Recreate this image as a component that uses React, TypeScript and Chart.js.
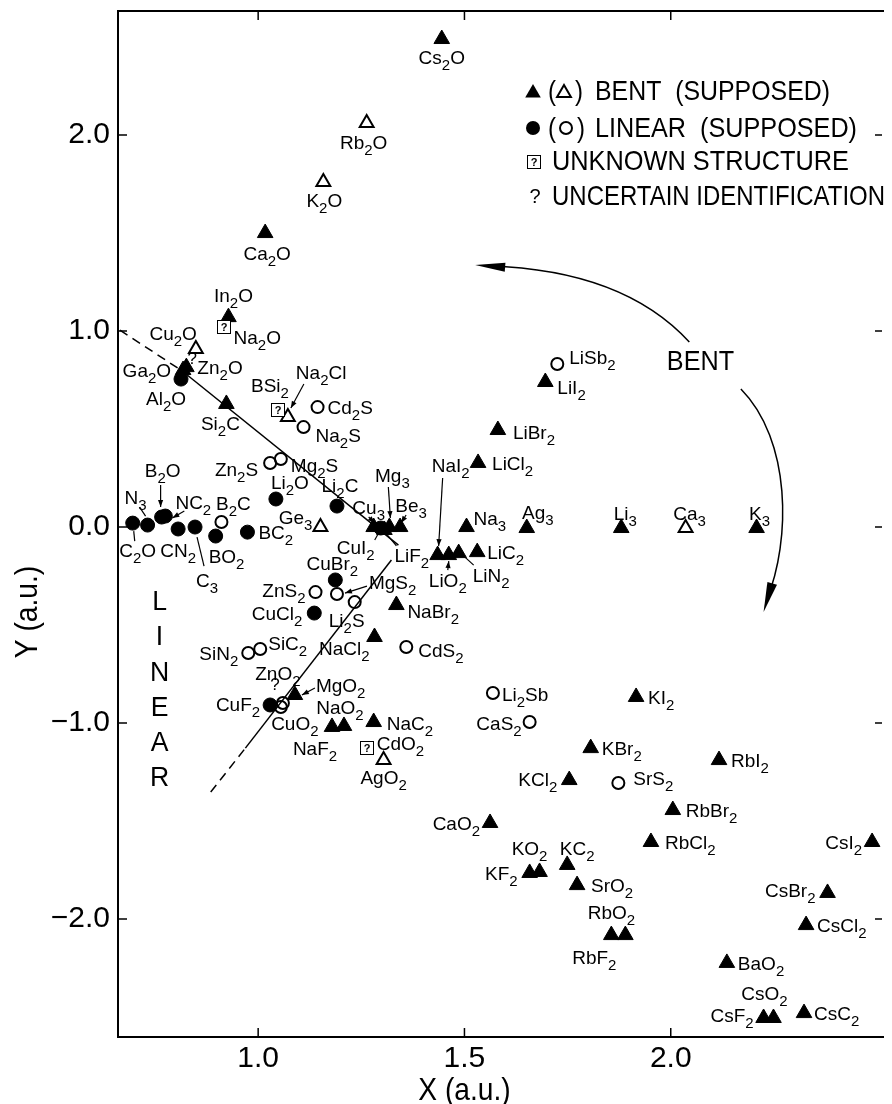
import React, { useEffect, useRef } from 'react';
import { Chart, registerables } from 'chart.js';
Chart.register(...registerables);

const FONT = '"Liberation Sans", Arial, sans-serif';

// ---- axes ----
const X_MIN = 0.6603;
const X_MAX = 2.512;
const Y_MIN = -2.602;
const Y_MAX = 2.633;
const X_TICKS = [1.0, 1.5, 2.0];
const Y_TICKS = [-2, -1, 0, 1, 2];

// ---- BENT (filled triangles) ----
const BENT_NAMES = ['Cs_2O','Ca_2O','In_2O','Ga_2O','Zn_2O','Si_2C','Cu_3','LiF_2','Mg_3','Be_3','Na_3','Ag_3','Li_3','K_3','LiCl_2','LiBr_2','LiI_2','NaI_2','LiO_2','LiN_2','LiC_2','NaBr_2','NaCl_2','MgO_2','NaF_2','NaO_2','NaC_2','KI_2','KBr_2','KCl_2','RbI_2','RbBr_2','RbCl_2','CsI_2','CsBr_2','CsCl_2','BaO_2','CsF_2','CsO_2','CsC_2','RbF_2','RbO_2','SrO_2','KC_2','KF_2','KO_2','CaO_2'];
const BENT_X = [1.445,1.017,0.928,0.818,0.826,0.923,1.280,1.306,1.318,1.344,1.505,1.651,1.880,2.208,1.533,1.581,1.696,1.435,1.462,1.486,1.531,1.335,1.282,1.089,1.179,1.208,1.280,1.916,1.806,1.754,2.117,2.005,1.952,2.488,2.380,2.328,2.136,2.225,2.249,2.323,1.856,1.890,1.773,1.749,1.658,1.682,1.562];
const BENT_Y = [2.490,1.500,1.071,0.801,0.816,0.628,0.000,-0.015,0.000,0.000,0.000,-0.005,-0.005,-0.005,0.327,0.495,0.740,-0.143,-0.143,-0.133,-0.128,-0.398,-0.561,-0.857,-1.020,-1.015,-0.995,-0.867,-1.128,-1.291,-1.189,-1.444,-1.607,-1.607,-1.867,-2.031,-2.224,-2.505,-2.505,-2.480,-2.082,-2.082,-1.827,-1.724,-1.765,-1.760,-1.510];

// ---- BENT (supposed, open triangles) ----
const BENT_SUP_NAMES = ['Rb_2O','K_2O','Cu_2O','Na_2Cl','Ge_3','Ca_3','AgO_2'];
const BENT_SUP_X = [1.263,1.158,0.849,1.072,1.151,2.036,1.304];
const BENT_SUP_Y = [2.061,1.760,0.908,0.561,0.000,-0.005,-1.189];

// ---- LINEAR (filled circles) ----
const LIN_NAMES = ['Al_2O','Li_2O','Li_2C','CuI_2','C_2O','N_3','B_2O','NC_2','CN_2','C_3','BO_2','BC_2','CuBr_2','CuCl_2','CuF_2'];
const LIN_X = [0.813,1.043,1.191,1.297,0.696,0.732,0.766,0.775,0.806,0.847,0.897,0.974,1.187,1.136,1.029];
const LIN_Y = [0.755,0.143,0.107,-0.005,0.020,0.010,0.051,0.056,-0.010,0.000,-0.046,-0.026,-0.270,-0.439,-0.908];

// ---- LINEAR (supposed, open circles) ----
const LIN_SUP_NAMES = ['Cd_2S','Na_2S','Zn_2S','Mg_2S','B_2C','LiSb_2','ZnS_2','MgS_2','Li_2S','CdS_2','SiN_2','SiC_2','ZnO_2','CuO_2','Li_2Sb','CaS_2','SrS_2'];
const LIN_SUP_X = [1.144,1.110,1.029,1.055,0.911,1.725,1.139,1.191,1.234,1.359,0.976,1.005,1.060,1.055,1.569,1.658,1.873];
const LIN_SUP_Y = [0.612,0.510,0.327,0.347,0.026,0.832,-0.332,-0.342,-0.383,-0.612,-0.643,-0.622,-0.898,-0.918,-0.847,-0.995,-1.306];

// ---- UNKNOWN STRUCTURE ----
const UNK_NAMES = ['Na_2O','BSi_2','CdO_2'];
const UNK_X = [0.916,1.048,1.263];
const UNK_Y = [1.020,0.597,-1.128];

// ---- UNCERTAIN IDENTIFICATION marks ----
const UNCERTAIN_X = [0.840, 1.041];
const UNCERTAIN_Y = [0.857, -0.806];

// ---- guide lines (data units) ----
const G1_SOLID_X = [0.816, 1.340];
const G1_SOLID_Y = [0.796, -0.092];
const G1_DASH_X = [0.665, 0.816];
const G1_DASH_Y = [1.005, 0.796];
const G2_SOLID_X = [0.969, 1.323];
const G2_SOLID_Y = [-1.128, -0.168];
const G2_DASH_X = [0.885, 0.969];
const G2_DASH_Y = [-1.352, -1.128];

// ---- curved arrows (data units) ----
const ARC1_X = [2.045, 1.885, 1.526];
const ARC1_Y = [0.944, 1.311, 1.337];
const ARC2_X = [2.170, 2.292, 2.292, 2.225];
const ARC2_Y = [0.704, 0.444, -0.066, -0.434];

// ---- label layout: [align, dx px, dy px] ----
const LABEL_LAYOUT: Record<string, [string, number, number]> = {
  'Cs_2O': ['c', 0, 18], 'Rb_2O': ['c', -3, 19], 'K_2O': ['c', 1, 18], 'Ca_2O': ['c', 2, 20],
  'In_2O': ['c', 5, -22], 'Na_2O': ['l', 10, 10], 'Cu_2O': ['r', 1, -16], 'Zn_2O': ['l', 11, 0],
  'Ga_2O': ['r', -12, 0], 'Al_2O': ['c', -15, 19], 'Si_2C': ['c', -6, 19], 'BSi_2': ['c', -8, -25],
  'Na_2Cl': ['l', 8, -45], 'Cd_2S': ['l', 10, 0], 'Na_2S': ['l', 12, 8], 'Zn_2S': ['r', -12, 6],
  'Mg_2S': ['l', 10, 6], 'Li_2O': ['c', 14, -17], 'Li_2C': ['c', 3, -21], 'Ge_3': ['r', -8, -10],
  'B_2C': ['c', 12, -19], 'BC_2': ['l', 11, 0], 'BO_2': ['l', -7, 20], 'C_3': ['c', 12, 53],
  'CN_2': ['c', 0, 21], 'C_2O': ['c', 5, 27], 'N_3': ['c', -12, -28], 'B_2O': ['c', 1, -47],
  'NC_2': ['c', 28, -14], 'Cu_3': ['c', -5, -20], 'Mg_3': ['c', 3, -52], 'Be_3': ['c', 11, -22],
  'CuI_2': ['r', -6, 19], 'LiF_2': ['l', 10, 25], 'NaI_2': ['c', 13, -90], 'LiO_2': ['c', -1, 25],
  'LiN_2': ['l', 14, 22], 'LiC_2': ['l', 10, 0], 'Na_3': ['l', 7, -9], 'Ag_3': ['c', 11, -16],
  'Li_3': ['c', 4, -15], 'Ca_3': ['c', 4, -15], 'K_3': ['c', 3, -15], 'LiCl_2': ['l', 14, 0],
  'LiBr_2': ['l', 15, 2], 'LiI_2': ['l', 12, 5], 'LiSb_2': ['l', 12, -7], 'NaBr_2': ['l', 11, 6],
  'NaCl_2': ['r', -5, 11], 'CdS_2': ['l', 12, 3], 'Li_2S': ['c', -8, 18], 'MgS_2': ['l', 32, -12],
  'CuBr_2': ['c', -3, -17], 'ZnS_2': ['r', -10, -2], 'CuCl_2': ['r', -12, 0], 'SiN_2': ['r', -10, 0],
  'SiC_2': ['l', 8, -6], 'ZnO_2': ['c', -5, -30], 'CuO_2': ['c', 14, 16], 'CuF_2': ['r', -10, -1],
  'MgO_2': ['l', 21, -10], 'NaO_2': ['c', -4, -19], 'NaF_2': ['c', -17, 21], 'NaC_2': ['l', 13, 1],
  'CdO_2': ['l', 10, -5], 'AgO_2': ['c', 0, 17], 'Li_2Sb': ['l', 9, 1], 'CaS_2': ['r', -8, 1],
  'KCl_2': ['r', -12, -1], 'KBr_2': ['l', 11, 0], 'KI_2': ['l', 12, 0], 'RbI_2': ['l', 12, 0],
  'SrS_2': ['l', 15, -5], 'RbBr_2': ['l', 13, 0], 'RbCl_2': ['l', 14, 0], 'CsI_2': ['r', -10, 0],
  'CsBr_2': ['r', -12, -3], 'CsCl_2': ['l', 11, 0], 'BaO_2': ['l', 11, 0], 'CsO_2': ['c', -9, -25],
  'CsF_2': ['r', -10, -3], 'CsC_2': ['l', 10, 0], 'RbO_2': ['c', -14, -23], 'RbF_2': ['c', -17, 22],
  'SrO_2': ['l', 14, 0], 'KC_2': ['c', 10, -17], 'KO_2': ['c', -10, -24], 'KF_2': ['r', -12, 0],
  'CaO_2': ['r', -10, 0],
};

// pointer lines from label to mark: [x1, y1, x2, y2, arrowhead]
const POINTERS: Record<string, [number, number, number, number, number]> = {
  'Na_2Cl': [16, -33, 3, -9, 1], 'N_3': [-8, -18, -2, -9, 0], 'C_2O': [2, 18, 1, 8, 0],
  'B_2O': [-1, -32, -1, -10, 1], 'NC_2': [19, -5, 7, 2, 1], 'C_3': [9, 39, 2, 10, 0],
  'Cu_3': [-5, -10, 1, -4, 1], 'Mg_3': [-1, -40, 1, -9, 1], 'Be_3': [6, -12, 1, -4, 1],
  'CuI_2': [-6, 12, -2, 5, 0], 'LiF_2': [12, 16, 2, 4, 0], 'NaI_2': [5, -77, 1, -9, 1],
  'LiO_2': [-1, 15, 0, 6, 1], 'LiN_2': [15, 12, 3, 1, 0], 'MgS_2': [30, -8, 8, -1, 1],
  'MgO_2': [20, -7, 7, 0, 1],
};

function parseFormula(s: string) {
  const parts: { t: string; sub: boolean }[] = [];
  for (let i = 0; i < s.length; i++) {
    if (s[i] === '_' && i + 1 < s.length) { parts.push({ t: s[i + 1], sub: true }); i++; }
    else {
      const last = parts[parts.length - 1];
      if (last && !last.sub) last.t += s[i]; else parts.push({ t: s[i], sub: false });
    }
  }
  return parts;
}

function drawFormula(ctx: CanvasRenderingContext2D, s: string, x: number, y: number, align: string, size = 19) {
  const mainF = `${size}px ${FONT}`;
  const subF = `${Math.round(size * 0.78)}px ${FONT}`;
  const parts = parseFormula(s);
  let w = 0;
  const ws = parts.map(p => { ctx.font = p.sub ? subF : mainF; const m = ctx.measureText(p.t).width; w += m; return m; });
  let cx = align === 'c' ? x - w / 2 : align === 'r' ? x - w : x;
  const base = y + size * 0.36;
  ctx.textAlign = 'left';
  ctx.textBaseline = 'alphabetic';
  parts.forEach((p, i) => {
    ctx.font = p.sub ? subF : mainF;
    ctx.fillText(p.t, cx, p.sub ? base + size * 0.34 : base);
    cx += ws[i];
  });
}

function drawFit(ctx: CanvasRenderingContext2D, text: string, x: number, y: number, size: number, targetW: number) {
  ctx.font = `${size}px ${FONT}`;
  ctx.textAlign = 'left';
  ctx.textBaseline = 'alphabetic';
  const w = ctx.measureText(text).width;
  ctx.save();
  ctx.translate(x, y + size * 0.36);
  ctx.scale(targetW / w, 1);
  ctx.fillText(text, 0, 0);
  ctx.restore();
}

function drawTextSx(ctx: CanvasRenderingContext2D, text: string, x: number, y: number, size: number, sx: number) {
  ctx.font = `${size}px ${FONT}`;
  ctx.textAlign = 'center';
  ctx.textBaseline = 'alphabetic';
  ctx.save();
  ctx.translate(x, y + size * 0.36);
  ctx.scale(sx, 1);
  ctx.fillText(text, 0, 0);
  ctx.restore();
}

function arrowHead(ctx: CanvasRenderingContext2D, x1: number, y1: number, x2: number, y2: number, len: number, half: number) {
  const a = Math.atan2(y2 - y1, x2 - x1);
  ctx.beginPath();
  ctx.moveTo(x2, y2);
  ctx.lineTo(x2 - len * Math.cos(a) + half * Math.sin(a), y2 - len * Math.sin(a) - half * Math.cos(a));
  ctx.lineTo(x2 - len * Math.cos(a) - half * Math.sin(a), y2 - len * Math.sin(a) + half * Math.cos(a));
  ctx.closePath();
  ctx.fill();
}

function triangle(ctx: CanvasRenderingContext2D, x: number, y: number, r: number, fill: boolean) {
  ctx.beginPath();
  ctx.moveTo(x, y - r);
  ctx.lineTo(x + r * 0.866, y + r * 0.5);
  ctx.lineTo(x - r * 0.866, y + r * 0.5);
  ctx.closePath();
  if (fill) ctx.fill(); else ctx.stroke();
}

function makeBox(size: number) {
  const c = document.createElement('canvas');
  c.width = size; c.height = size;
  const g = c.getContext('2d')!;
  g.fillStyle = '#fff';
  g.fillRect(0, 0, size, size);
  g.strokeStyle = '#000';
  g.lineWidth = 1;
  g.strokeRect(0.5, 0.5, size - 1, size - 1);
  g.fillStyle = '#000';
  g.font = `bold ${Math.round(size * 0.75)}px ${FONT}`;
  g.textAlign = 'center';
  g.textBaseline = 'middle';
  g.fillText('?', size / 2, size / 2 + 1);
  return c;
}

const pts = (xs: number[], ys: number[]) => xs.map((x, i) => ({ x, y: ys[i] }));

export default function App() {
  const ref = useRef<HTMLCanvasElement>(null);
  useEffect(() => {
    const canvas = ref.current!;
    const box = makeBox(14);

    const decor = {
      id: 'decor',
      afterDatasetsDraw(chart: any) {
        const { ctx, chartArea: ca, scales } = chart;
        const xs = scales.x, ys = scales.y;
        const px = (v: number) => xs.getPixelForValue(v);
        const py = (v: number) => ys.getPixelForValue(v);
        ctx.save();
        ctx.strokeStyle = '#000';
        ctx.fillStyle = '#000';
        // frame (left, top, bottom)
        ctx.lineWidth = 2;
        ctx.beginPath();
        ctx.moveTo(ca.right + 2, ca.top);
        ctx.lineTo(ca.left, ca.top);
        ctx.lineTo(ca.left, ca.bottom);
        ctx.lineTo(ca.right + 2, ca.bottom);
        ctx.stroke();
        // inward ticks
        ctx.lineWidth = 1.5;
        ctx.beginPath();
        X_TICKS.forEach(v => {
          const x = px(v);
          ctx.moveTo(x, ca.bottom); ctx.lineTo(x, ca.bottom - 9);
          ctx.moveTo(x, ca.top); ctx.lineTo(x, ca.top + 9);
        });
        Y_TICKS.forEach(v => {
          const y = py(v);
          ctx.moveTo(ca.left, y); ctx.lineTo(ca.left + 9, y);
          ctx.moveTo(ca.right, y); ctx.lineTo(ca.right - 7, y);
        });
        ctx.stroke();

        // unknown-structure boxes (crisp, on integer pixels)
        UNK_X.forEach((v, i) => {
          ctx.drawImage(box, Math.round(px(v) - 7), Math.round(py(UNK_Y[i]) - 7));
        });

        // point labels
        const groups: [string[], number[], number[]][] = [
          [BENT_NAMES, BENT_X, BENT_Y], [BENT_SUP_NAMES, BENT_SUP_X, BENT_SUP_Y],
          [LIN_NAMES, LIN_X, LIN_Y], [LIN_SUP_NAMES, LIN_SUP_X, LIN_SUP_Y], [UNK_NAMES, UNK_X, UNK_Y],
        ];
        groups.forEach(([names, gx, gy]) => {
          names.forEach((n, i) => {
            const x = px(gx[i]), y = py(gy[i]);
            const lay = LABEL_LAYOUT[n] || ['l', 10, 0];
            drawFormula(ctx, n, x + lay[1], y + lay[2], lay[0]);
            const p = POINTERS[n];
            if (p) {
              ctx.lineWidth = 1.2;
              ctx.beginPath();
              ctx.moveTo(x + p[0], y + p[1]);
              ctx.lineTo(x + p[2], y + p[3]);
              ctx.stroke();
              if (p[4]) arrowHead(ctx, x + p[0], y + p[1], x + p[2], y + p[3], 7, 2.6);
            }
          });
        });

        // uncertain marks
        UNCERTAIN_X.forEach((v, i) => {
          ctx.font = `17px ${FONT}`;
          ctx.textAlign = 'center';
          ctx.textBaseline = 'middle';
          ctx.fillText('?', px(v), py(UNCERTAIN_Y[i]));
        });

        // curved arrows
        ctx.lineWidth = 1.5;
        const a1 = ARC1_X.map((v, i) => [px(v), py(ARC1_Y[i])]);
        ctx.beginPath();
        ctx.moveTo(a1[0][0], a1[0][1]);
        ctx.quadraticCurveTo(a1[1][0], a1[1][1], a1[2][0] + 14, a1[2][1] + 1);
        ctx.stroke();
        arrowHead(ctx, a1[2][0] + 40, a1[2][1] + 3, a1[2][0], a1[2][1], 30, 4.5);
        const a2 = ARC2_X.map((v, i) => [px(v), py(ARC2_Y[i])]);
        ctx.beginPath();
        ctx.moveTo(a2[0][0], a2[0][1]);
        ctx.bezierCurveTo(a2[1][0], a2[1][1], a2[2][0], a2[2][1], a2[3][0] + 3, a2[3][1] - 12);
        ctx.stroke();
        arrowHead(ctx, a2[3][0] + 9, a2[3][1] - 30, a2[3][0], a2[3][1], 30, 5);

        // region texts
        drawTextSx(ctx, 'BENT', px(2.072), py(0.852), 28, 0.9);
        const linear = 'LINEAR';
        for (let i = 0; i < linear.length; i++) {
          drawTextSx(ctx, linear[i], px(0.761), py(-0.372 - i * 0.18), 28, 0.95);
        }

        // axis titles
        drawTextSx(ctx, 'X (a.u.)', px(1.5), 1088, 32, 0.88);
        ctx.save();
        ctx.translate(25, 612);
        ctx.rotate(-Math.PI / 2);
        drawTextSx(ctx, 'Y (a.u.)', 0, 0, 32, 0.88);
        ctx.restore();

        // legend
        ctx.lineWidth = 2;
        triangle(ctx, 533, 93, 9, true);
        drawFit(ctx, '(', 548, 90, 28, 8);
        triangle(ctx, 564, 93, 8, false);
        drawFit(ctx, ')', 575, 90, 28, 8);
        drawFit(ctx, 'BENT  (SUPPOSED)', 595, 90, 28, 235);
        ctx.beginPath(); ctx.arc(533, 128, 7, 0, Math.PI * 2); ctx.fill();
        drawFit(ctx, '(', 548, 127, 28, 8);
        ctx.beginPath(); ctx.arc(566, 128, 6, 0, Math.PI * 2); ctx.stroke();
        drawFit(ctx, ')', 577, 127, 28, 8);
        drawFit(ctx, 'LINEAR  (SUPPOSED)', 595, 127, 28, 262);
        ctx.drawImage(box, 527, 155);
        drawFit(ctx, 'UNKNOWN STRUCTURE', 552, 160, 28, 297);
        ctx.font = `20px ${FONT}`;
        ctx.textAlign = 'center';
        ctx.textBaseline = 'middle';
        ctx.fillText('?', 535, 197);
        drawFit(ctx, 'UNCERTAIN IDENTIFICATION', 552, 195, 28, 333);
        ctx.restore();
      },
    };

    const fitY = (s: any) => { s.width = 118; s.paddingTop = 0; s.paddingBottom = 0; };
    const fitX = (s: any) => { s.height = 67; s.paddingLeft = 0; s.paddingRight = 0; };

    const chart = new Chart(canvas, {
      type: 'scatter',
      data: {
        datasets: [
          { data: pts(G1_SOLID_X, G1_SOLID_Y), showLine: true, borderColor: '#000', borderWidth: 1.5, pointRadius: 0 },
          { data: pts(G1_DASH_X, G1_DASH_Y), showLine: true, borderColor: '#000', borderWidth: 1.5, borderDash: [9, 6], pointRadius: 0 },
          { data: pts(G2_SOLID_X, G2_SOLID_Y), showLine: true, borderColor: '#000', borderWidth: 1.5, pointRadius: 0 },
          { data: pts(G2_DASH_X, G2_DASH_Y), showLine: true, borderColor: '#000', borderWidth: 1.5, borderDash: [9, 6], pointRadius: 0 },
          { data: pts(BENT_X, BENT_Y), pointStyle: 'triangle', pointRadius: 9, backgroundColor: '#000', borderColor: '#000', borderWidth: 1 },
          { data: pts(BENT_SUP_X, BENT_SUP_Y), pointStyle: 'triangle', pointRadius: 8, backgroundColor: 'rgba(0,0,0,0)', borderColor: '#000', borderWidth: 2 },
          { data: pts(LIN_X, LIN_Y), pointStyle: 'circle', pointRadius: 7, backgroundColor: '#000', borderColor: '#000', borderWidth: 1 },
          { data: pts(LIN_SUP_X, LIN_SUP_Y), pointStyle: 'circle', pointRadius: 6, backgroundColor: 'rgba(0,0,0,0)', borderColor: '#000', borderWidth: 2 },
          { data: pts(UNK_X, UNK_Y), pointStyle: 'rect', pointRadius: 7, backgroundColor: '#fff', borderColor: '#000', borderWidth: 1 },
        ] as any,
      },
      options: {
        responsive: false,
        animation: false,
        devicePixelRatio: 1,
        events: [],
        layout: { padding: { top: 11, left: 0, right: 0, bottom: 0 } },
        plugins: { legend: { display: false }, tooltip: { enabled: false } },
        scales: {
          x: {
            type: 'linear', min: X_MIN, max: X_MAX,
            grid: { display: false, drawTicks: false },
            border: { display: false },
            afterBuildTicks: (s: any) => { s.ticks = X_TICKS.map(v => ({ value: v })); },
            afterFit: fitX,
            ticks: { color: '#000', padding: 4, font: { family: FONT, size: 30 }, callback: (v: any) => Number(v).toFixed(1) },
          },
          y: {
            type: 'linear', min: Y_MIN, max: Y_MAX,
            grid: { display: false, drawTicks: false },
            border: { display: false },
            afterBuildTicks: (s: any) => { s.ticks = Y_TICKS.map(v => ({ value: v })); },
            afterFit: fitY,
            ticks: { color: '#000', padding: 8, font: { family: FONT, size: 30 }, callback: (v: any) => (Number(v) < 0 ? '\u2212' : '') + Math.abs(Number(v)).toFixed(1) },
          },
        },
      } as any,
      plugins: [decor],
    });
    return () => chart.destroy();
  }, []);
  return (
    <div style={{ position: 'absolute', left: 0, top: 0, width: 892, height: 1104, background: '#fff' }}>
      <canvas ref={ref} width={892} height={1104} style={{ display: 'block', width: 892, height: 1104 }} />
    </div>
  );
}
